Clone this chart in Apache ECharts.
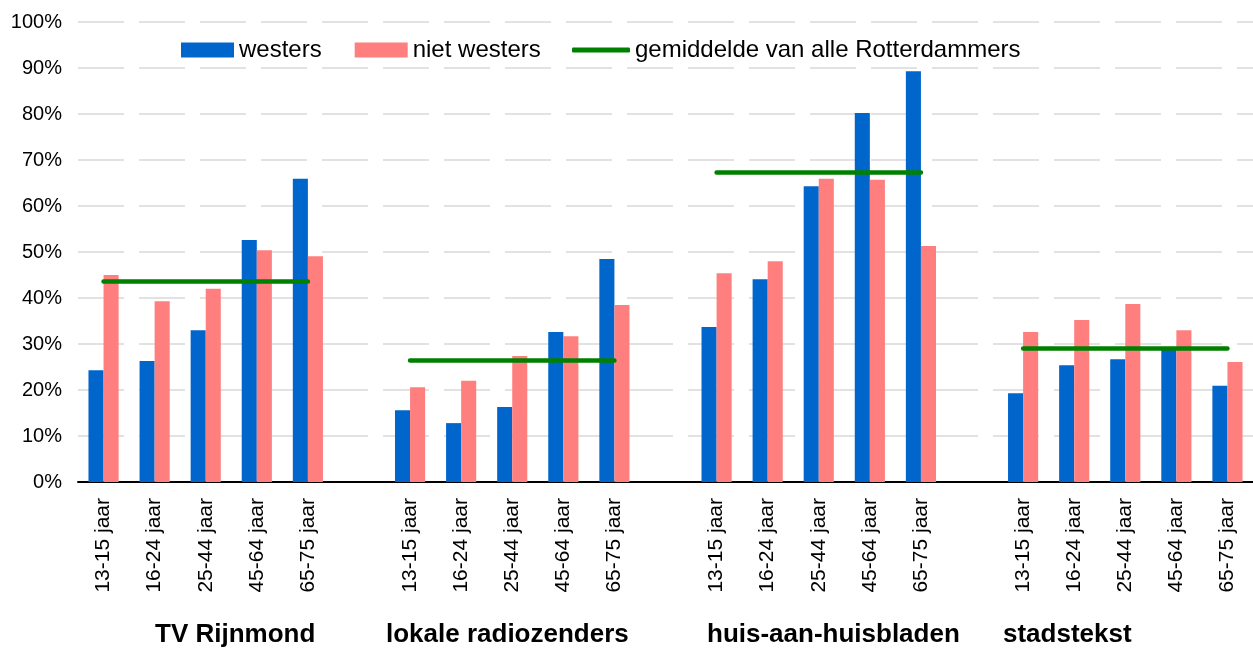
<!doctype html>
<html lang="nl">
<head>
    <meta charset="UTF-8">
    <title>Bereik lokale media naar herkomst en leeftijd</title>
    <script src="https://cdn.jsdelivr.net/npm/echarts@6/dist/echarts.min.js"></script>
    <style>
        html, body { margin: 0; padding: 0; background: #fff; }
    </style>
</head>
<body>
<div id="main" style="width: 1253px;height:648px;"></div>
<script type="text/javascript">
    // leeftijdsgroepen per medium
    var ageGroups = ['13-15 jaar', '16-24 jaar', '25-44 jaar', '45-64 jaar', '65-75 jaar'];
    var media = ['TV Rijnmond', 'lokale radiozenders', 'huis-aan-huisbladen', 'stadstekst'];

    // percentages, per medium 5 leeftijdsgroepen
    var westers = [
        24.3, 26.3, 33.0, 52.6, 65.9,
        15.6, 12.8, 16.3, 32.6, 48.5,
        33.7, 44.1, 64.3, 80.2, 89.3,
        19.3, 25.4, 26.7, 28.7, 20.9
    ];
    var nietWesters = [
        45.0, 39.3, 42.0, 50.4, 49.1,
        20.6, 22.0, 27.4, 31.7, 38.5,
        45.4, 48.0, 65.9, 65.7, 51.3,
        32.6, 35.2, 38.7, 33.0, 26.1
    ];
    var gemiddelde = [43.6, 26.4, 67.3, 29.0];

    // categorieen met een lege kolom tussen de media
    var categories = [];
    var westersData = [];
    var nietWestersData = [];
    var gemData = [];
    media.forEach(function (m, mi) {
        if (mi > 0) {
            categories.push('');
            westersData.push('-');
            nietWestersData.push('-');
            gemData.push('-');
        }
        ageGroups.forEach(function (a, ai) {
            categories.push(a);
            westersData.push(westers[mi * 5 + ai]);
            nietWestersData.push(nietWesters[mi * 5 + ai]);
            gemData.push(gemiddelde[mi]);
        });
    });

    var font = 'Liberation Sans, Arial, sans-serif';
    var chart = echarts.init(document.getElementById('main'));

    // groepslabels onder de as
    var groupLabelX = [155, 386, 707, 1003];
    var graphics = media.map(function (m, i) {
        return {
            type: 'text',
            left: groupLabelX[i],
            top: 622,
            style: {
                text: m,
                font: 'bold 26px ' + font,
                fill: '#000'
            }
        };
    });

    var legendText = {fontSize: 24, color: '#000', fontFamily: font};

    var option = {
        animation: false,
        textStyle: {fontFamily: font},
        grid: {left: 78, right: 0, top: 22, bottom: 166, containLabel: false},
        legend: [
            {
                left: 176,
                top: 33,
                itemWidth: 53,
                itemHeight: 15,
                itemGap: 33,
                textStyle: legendText,
                data: [
                    {name: 'westers', icon: 'rect'},
                    {name: 'niet westers', icon: 'rect'}
                ]
            },
            {
                left: 567,
                top: 33,
                itemWidth: 58,
                itemHeight: 5,
                textStyle: legendText,
                data: [
                    {name: 'gemiddelde van alle Rotterdammers', icon: 'roundRect'}
                ]
            }
        ],
        xAxis: {
            type: 'category',
            data: categories,
            axisTick: {show: false},
            axisLine: {lineStyle: {color: '#000', width: 2}},
            axisLabel: {
                interval: 0,
                rotate: 90,
                fontSize: 21,
                color: '#000',
                margin: 16
            }
        },
        yAxis: {
            type: 'value',
            min: 0,
            max: 100,
            interval: 10,
            axisLine: {show: false},
            axisTick: {show: false},
            axisLabel: {
                formatter: '{value}%',
                fontSize: 20,
                color: '#000',
                margin: 16
            },
            splitLine: {
                lineStyle: {color: '#d9d9d9', width: 1.5, type: [46, 15]}
            }
        },
        series: [
            {
                name: 'westers',
                type: 'bar',
                data: westersData,
                barGap: '0%',
                barCategoryGap: '41%',
                itemStyle: {color: '#0066cc'}
            },
            {
                name: 'niet westers',
                type: 'bar',
                data: nietWestersData,
                itemStyle: {color: '#ff7f7f'}
            },
            {
                name: 'gemiddelde van alle Rotterdammers',
                type: 'line',
                data: gemData,
                symbol: 'none',
                connectNulls: false,
                z: 5,
                lineStyle: {color: '#008000', width: 4.5, cap: 'round'},
                itemStyle: {color: '#008000'}
            }
        ],
        graphic: graphics
    };

    chart.setOption(option);
</script>
</body>
</html>
